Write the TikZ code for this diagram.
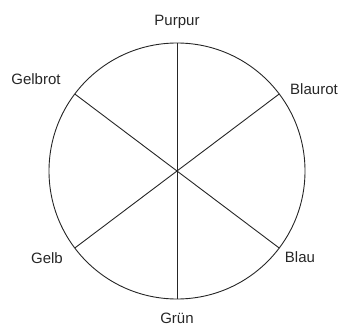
\documentclass[tikz,border=0pt]{standalone}
\usepackage{fontspec}
\setmainfont{Liberation Sans}
\begin{document}
\begin{tikzpicture}[x=1pt,y=1pt,
  wheel/.style={circle,draw=black!85,line width=0.9pt,minimum size=256pt,inner sep=0pt,outer sep=0pt},
  spoke/.style={draw=black!85,line width=0.9pt},
  lbl/.style={font=\fontsize{15}{18}\selectfont,text=black!85,inner sep=0pt}]
\useasboundingbox (0,0) rectangle (342,327);
\node[wheel] (c) at (177,156) {};
\coordinate (m) at (177,156);
\node[lbl] (purpur) at (177,305) {Purpur};
\node[lbl] (gelbrot) at (36,248) {Gelbrot};
\node[lbl] (blaurot) at (314,238) {Blaurot};
\node[lbl] (gelb) at (47,69) {Gelb};
\node[lbl] (blau) at (300,70) {Blau};
\node[lbl] (gruen) at (177,9) {Grün};
\draw[spoke] (c.90) -- (c.270);
\draw[spoke] (c.143) -- (c.323);
\draw[spoke] (c.37) -- (c.217);
\fill[black!85] (m) circle (1.2pt);
\end{tikzpicture}
\end{document}
